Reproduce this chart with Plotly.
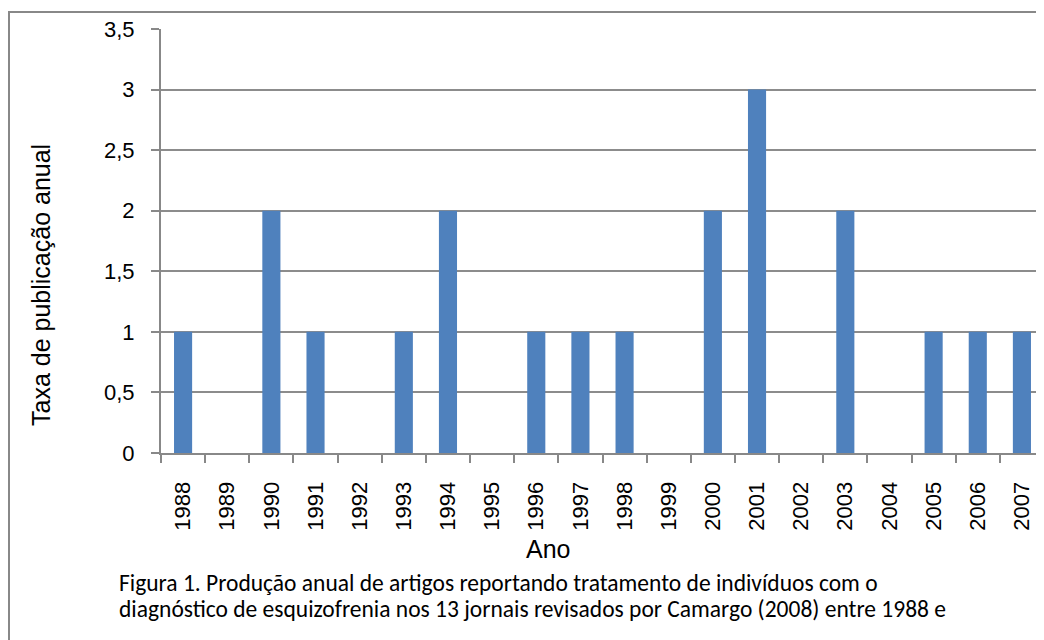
import plotly.graph_objects as go

# Dados
anos = ['1988', '1989', '1990', '1991', '1992', '1993', '1994', '1995', '1996', '1997',
        '1998', '1999', '2000', '2001', '2002', '2003', '2004', '2005', '2006', '2007']
taxa = [1, 0, 2, 1, 0, 1, 2, 0, 1, 1, 1, 0, 2, 3, 0, 2, 0, 1, 1, 1]

legenda = ['Figura 1. Produção anual de artigos reportando tratamento de indivíduos com o',
           'diagnóstico de esquizofrenia nos 13 jornais revisados por Camargo (2008) entre 1988 e']

# a página tem 8px de margem no body: o gráfico ocupa 1036x632
OFF = 8
W, H = 1044 - OFF, 640 - OFF
L, R, T, B = 161 - OFF, 0, 29 - OFF, 640 - 453
pw, ph = W - L - R, H - T - B


def px_x(x):
    # coordenada da página -> paper
    return (x - OFF - L) / pw


def px_y(y):
    return (H - B - (y - OFF)) / ph


fig = go.Figure(go.Bar(x=anos, y=taxa, marker_color='#4F81BD', marker_line_width=0))

fig.update_layout(
    width=W, height=H,
    margin=dict(l=L, r=R, t=T, b=B),
    plot_bgcolor='white', paper_bgcolor='white',
    separators=',.',
    bargap=0.59,
    showlegend=False,
    font=dict(family='Liberation Sans, Arial', color='black'),
)

fig.update_xaxes(
    type='category', showgrid=False,
    showline=True, linecolor='#888888', linewidth=2,
    ticks='outside', tickson='boundaries', ticklen=8, tickcolor='#888888', tickwidth=2,
    tickangle=-90, tickfont=dict(size=22), ticklabelstandoff=18,
)
fig.update_yaxes(
    range=[0, 3.5], dtick=0.5,
    showgrid=True, gridcolor='#8c8c8c', gridwidth=2, zeroline=False,
    showline=True, linecolor='#888888', linewidth=2,
    ticks='outside', ticklen=8, tickcolor='#888888', tickwidth=2,
    tickfont=dict(size=22), ticklabelstandoff=12,
)

# Moldura externa
fig.add_shape(type='rect', xref='paper', yref='paper',
              x0=px_x(9), x1=px_x(1070), y0=px_y(700), y1=px_y(12),
              line=dict(color='#888888', width=2), layer='below')

# Títulos dos eixos
fig.add_annotation(text='Taxa de publicação anual', xref='paper', yref='paper',
                   x=px_x(41), y=px_y(285), xanchor='center', yanchor='middle',
                   textangle=-90, showarrow=False, font=dict(size=25))
fig.add_annotation(text='Ano', xref='paper', yref='paper',
                   x=px_x(548), y=px_y(549), xanchor='center', yanchor='middle',
                   showarrow=False, font=dict(size=25))

# Legenda da figura, uma linha por anotação
for i, linha in enumerate(legenda):
    fig.add_annotation(
        text=linha, xref='paper', yref='paper', x=px_x(117), y=px_y(583 + 26 * i),
        xanchor='left', yanchor='middle', align='left', showarrow=False,
        font=dict(family='Carlito, Lato, Open Sans', size=23.5))

fig.write_html('out.html')
